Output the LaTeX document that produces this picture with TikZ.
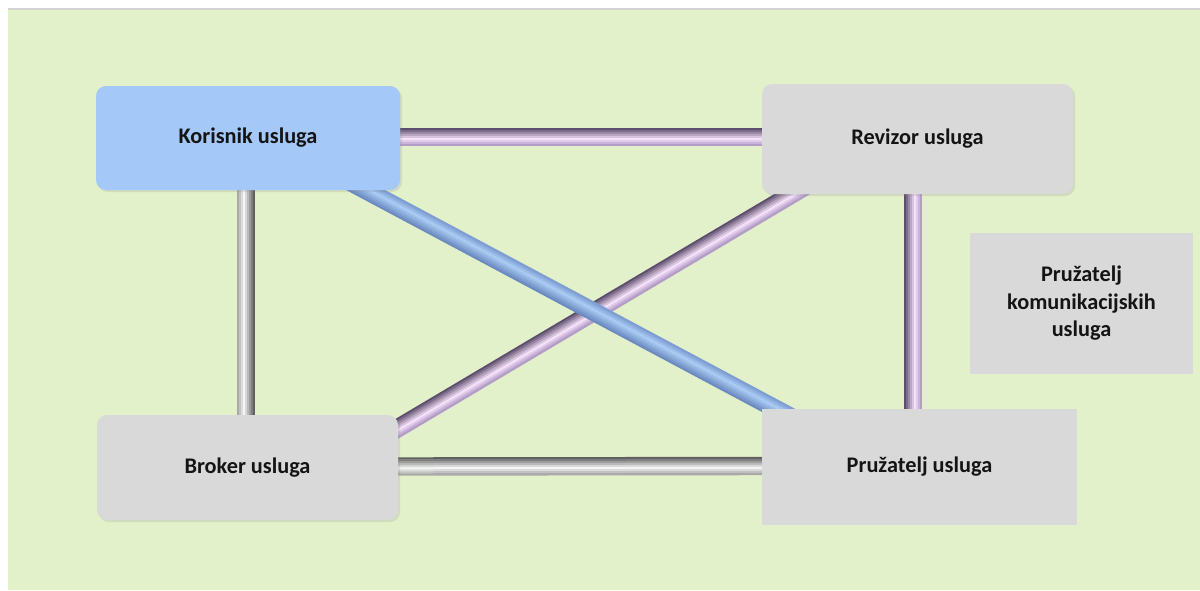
\documentclass[tikz,border=0pt]{standalone}
\usepackage{fontspec}
\setmainfont{Carlito}
\usetikzlibrary{calc,shadows}
\definecolor{bggreen}{HTML}{E3F1CA}
\definecolor{korblue}{HTML}{A4C8F8}
\definecolor{boxgray}{HTML}{D9D9D9}
\definecolor{pdark}{HTML}{5E4E6E}
\definecolor{plight}{HTML}{F6E2FA}
\definecolor{pedge}{HTML}{B49CC8}
\definecolor{gdark}{HTML}{606060}
\definecolor{glight}{HTML}{F6F6F6}
\definecolor{gedge}{HTML}{A8A8A8}
\definecolor{bdark}{HTML}{6A8AC0}
\definecolor{blight}{HTML}{AACCF4}
\definecolor{bedge}{HTML}{7E9ED4}
\pgfdeclarelayer{bgl}
\pgfdeclarelayer{tubel}
\pgfsetlayers{bgl,tubel,main}
% tube: from, to, dark colour, light colour, edge colour
\newcommand\tubeline[5]{%
  \foreach \i in {0,...,8}{%
    \pgfmathsetmacro\off{2*\i-8}%
    \ifnum\i<6 \pgfmathtruncatemacro\p{100-20*\i}\def\tc{#3!\p!#4}%
    \else \pgfmathtruncatemacro\p{33*(\i-5)}\def\tc{#5!\p!#4}\fi
    \draw[line width=2.4pt,draw=\tc] ($(#1)!\off pt!90:(#2)$) -- ($(#2)!\off pt!-90:(#1)$);
  }%
}
\begin{document}
\begin{tikzpicture}[x=1pt,y=-1pt,
  lbl/.style={font=\bfseries\fontsize{22.3}{27.5}\selectfont, align=center, inner sep=0pt, text=black!92},
  rbox/.style={lbl, rounded corners=10pt, drop shadow={shadow xshift=2pt,shadow yshift=-2pt,opacity=0.18}},
  sbox/.style={lbl, fill=boxgray}]
\useasboundingbox (0,0) rectangle (1200,590);
\begin{pgfonlayer}{bgl}
  \fill[white] (0,0) rectangle (1200,590);
  \fill[gray!35] (8,8) rectangle (1200,11);
  \fill[bggreen] (8,10) rectangle (1200,590);
\end{pgfonlayer}

\node[rbox, fill=korblue, minimum width=304pt, minimum height=104pt] (kor) at (248,138) {Korisnik usluga};
\node[rbox, fill=boxgray, minimum width=311pt, minimum height=110pt] (rev) at (917.5,139) {Revizor usluga};
\node[rbox, fill=boxgray, minimum width=301pt, minimum height=105pt] (bro) at (247.5,467.5) {Broker usluga};
\node[sbox, minimum width=315pt, minimum height=116pt] (pru) at (919.5,467) {Pružatelj usluga};
\node[sbox, minimum width=223pt, minimum height=141pt] (kom) at (1081.5,303.5) {Pružatelj\\komunikacijskih\\usluga};

\coordinate (bS) at ($(kor.south)+(118,0)$);
\coordinate (bE) at ($(pru.north)+(-144,0)$);
\coordinate (pS) at ($(rev.south)+(-125.5,0)$);
\coordinate (pE) at ($(bro.east)+(0,-39.5)$);
\coordinate (vS) at ($(rev.south)+(-4.5,0)$);
\coordinate (vE) at ($(pru.north)+(-6.5,0)$);

\begin{pgfonlayer}{tubel}
  \tubeline{$(rev.west)+(10,-2)$}{$(kor.east)+(-10,-1)$}{pdark}{plight}{pedge}
  \tubeline{$(pru.west)+(10,-1)$}{$(bro.east)+(-10,-1)$}{gdark}{glight}{gedge}
  \tubeline{$(vS)+(0,-10)$}{$(vE)+(0,10)$}{pdark}{plight}{pedge}
  \tubeline{$(bro.north)+(-1.5,10)$}{$(kor.south)+(-2,-10)$}{gdark}{glight}{gedge}
  \tubeline{$(pS)!-20pt!(pE)$}{$(pE)!-20pt!(pS)$}{pdark}{plight}{pedge}
  \tubeline{$(bS)!-20pt!(bE)$}{$(bE)!-20pt!(bS)$}{bdark}{blight}{bedge}
\end{pgfonlayer}
\end{tikzpicture}
\end{document}
